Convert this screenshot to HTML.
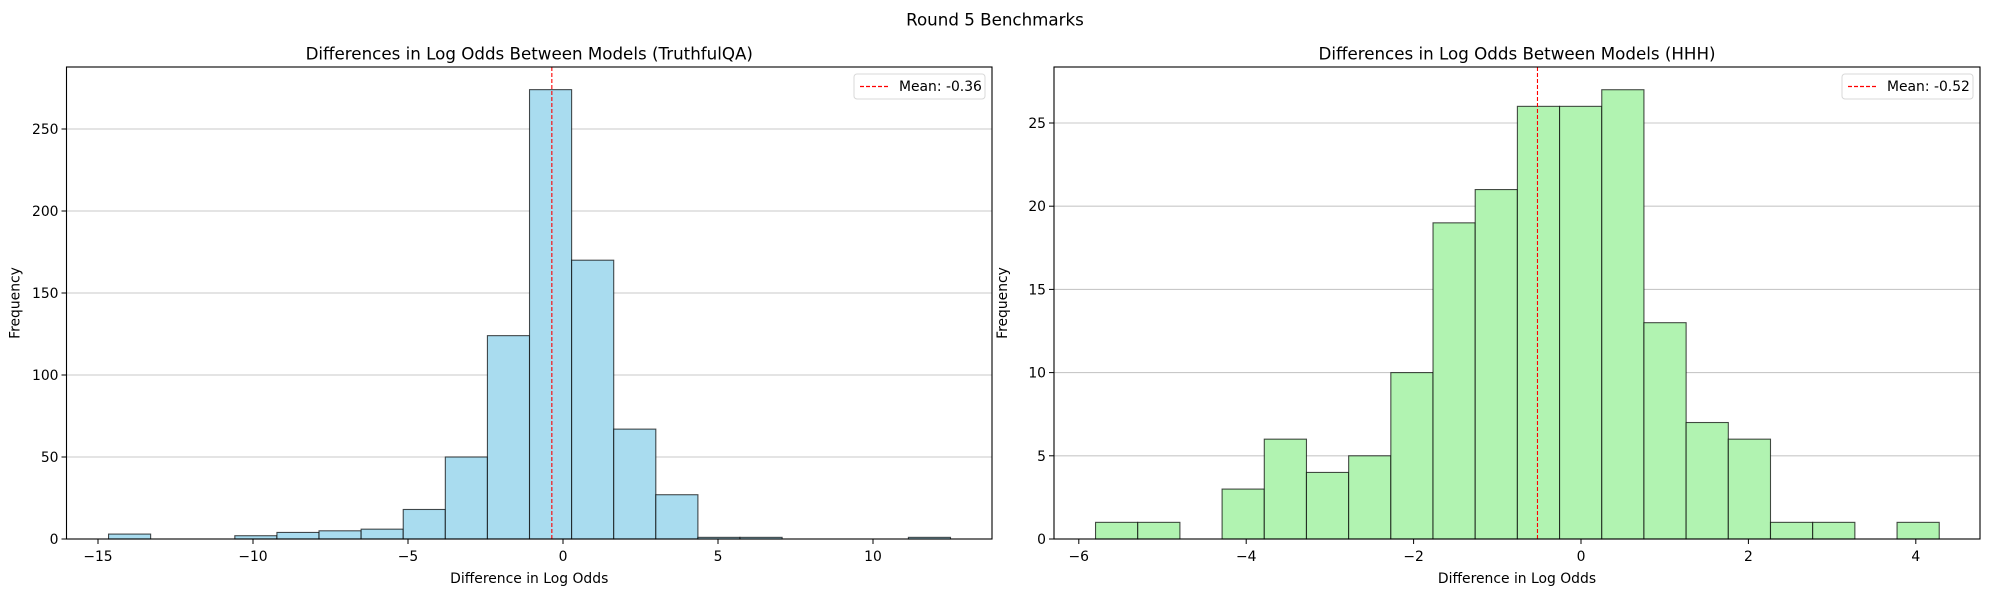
<!DOCTYPE html>
<html><head><meta charset="utf-8"><style>
body{margin:0;background:#fff;}
svg{display:block;font-family:"DejaVu Sans","Liberation Sans",sans-serif;}
</style></head><body>
<svg id="fig" width="1990" height="592" xmlns="http://www.w3.org/2000/svg">
<text x="995" y="21" font-size="16.7" text-anchor="middle" dominant-baseline="middle">Round 5 Benchmarks</text>
</svg>
<script>
const leftEdgesStart = -14.66, leftBinWidth = 1.358;
const leftCounts = [3,0,0,2,4,5,6,18,50,124,274,170,67,27,1,1,0,0,0,1];
const leftMean = -0.36;
const leftXTicks = [-15,-10,-5,0,5,10];
const leftYTicks = [0,50,100,150,200,250];
const rightEdgesStart = -5.8, rightBinWidth = 0.504;
const rightCounts = [1,1,0,3,6,4,5,10,19,21,26,26,27,13,7,6,1,1,0,1];
const rightMean = -0.52;
const rightXTicks = [-6,-4,-2,0,2,4];
const rightYTicks = [0,5,10,15,20,25];

const NS="http://www.w3.org/2000/svg";
const svg=document.getElementById('fig');
function mk(tag,attrs,parent){const e=document.createElementNS(NS,tag);for(const k in attrs)e.setAttribute(k,attrs[k]);(parent||svg).appendChild(e);return e;}

function panel(o){
  const g=mk('g',{});
  
  
  const L=o.left,R=o.right,T=67,B=539;
  const sx=v=>o.x0px+(v-o.x0)*o.pxPerX;
  const sy=v=>B-v*o.pxPerY;
  // grid
  o.yTicks.forEach(t=>{
    const y=sy(t);
    const gl=mk('line',{x1:L,x2:R,y1:y,y2:y,stroke:'#c8c8c8','stroke-width':1.1},g);
    
    
  });
  // bars
  o.counts.forEach((c,i)=>{
    const x1=sx(o.start+i*o.w),x2=sx(o.start+(i+1)*o.w);
    const r=mk('rect',{x:x1,y:sy(c),width:x2-x1,height:c*o.pxPerY,fill:o.color,stroke:'rgba(0,0,0,0.7)','stroke-width':1.1},g);
    
    
  });
  // mean line
  const mx=sx(o.mean);
  const ml=mk('line',{x1:mx,x2:mx,y1:T,y2:B,stroke:'#ff0000','stroke-width':1.1,'stroke-dasharray':'4,2'},g);
  
  
  // frame
  const fr=mk('rect',{x:L,y:T,width:R-L,height:B-T,fill:'none',stroke:'#000','stroke-width':1.1},g);
  
  
  // x ticks
  o.xTicks.forEach(t=>{
    const x=sx(t);
    mk('line',{x1:x,x2:x,y1:B,y2:B+5,stroke:'#000','stroke-width':1},g);
    const tx=mk('text',{x:x,y:B+18,'font-size':13.9,'text-anchor':'middle','dominant-baseline':'middle'},g);
    tx.textContent=String(t).replace('-','−');
    
    
  });
  o.yTicks.forEach(t=>{
    const y=sy(t);
    mk('line',{x1:L-5,x2:L,y1:y,y2:y,stroke:'#000','stroke-width':1},g);
    const tx=mk('text',{x:L-8,y:y+1,'font-size':13.9,'text-anchor':'end','dominant-baseline':'middle'},g);
    tx.textContent=t;
    
    
  });
  const xl=mk('text',{x:(L+R)/2,y:579,'font-size':13.9,'text-anchor':'middle','dominant-baseline':'middle'},g);
  xl.textContent='Difference in Log Odds';
  
  
  const yx=L-51, yy=(T+B)/2;
  const yl=mk('text',{x:yx,y:yy,'font-size':13.9,'text-anchor':'middle','dominant-baseline':'middle',transform:`rotate(-90 ${yx} ${yy})`},g);
  yl.textContent='Frequency';
  
  
  const ti=mk('text',{x:(L+R)/2,y:55,'font-size':16.7,'text-anchor':'middle','dominant-baseline':'middle'},g);
  ti.textContent=o.title;
  
  
  // legend
  const lg=mk('g',{},g);
  
  
  mk('rect',{x:R-138,y:74,width:131,height:25,rx:3,fill:'#fff','fill-opacity':0.8,stroke:'#d8d8d8','stroke-width':1},lg);
  mk('line',{x1:R-132,x2:R-104,y1:86.5,y2:86.5,stroke:'#ff0000','stroke-width':1.3,'stroke-dasharray':'4,2'},lg);
  const lt=mk('text',{x:R-93,y:87,'font-size':13.9,'dominant-baseline':'middle'},lg);
  lt.textContent='Mean: '+o.mean.toFixed(2);
  
  
}
panel({name:'truthfulqa-histogram',left:66.5,right:992,x0:0,x0px:563,pxPerX:31.0,pxPerY:1.64,
  start:leftEdgesStart,w:leftBinWidth,counts:leftCounts,mean:leftMean,xTicks:leftXTicks,yTicks:leftYTicks,
  color:'#a9dcef',title:'Differences in Log Odds Between Models (TruthfulQA)'});
panel({name:'hhh-histogram',left:1054,right:1980,x0:0,x0px:1581,pxPerX:83.7,pxPerY:16.64,
  start:rightEdgesStart,w:rightBinWidth,counts:rightCounts,mean:rightMean,xTicks:rightXTicks,yTicks:rightYTicks,
  color:'#b1f3b1',title:'Differences in Log Odds Between Models (HHH)'});
</script>
</body></html>
